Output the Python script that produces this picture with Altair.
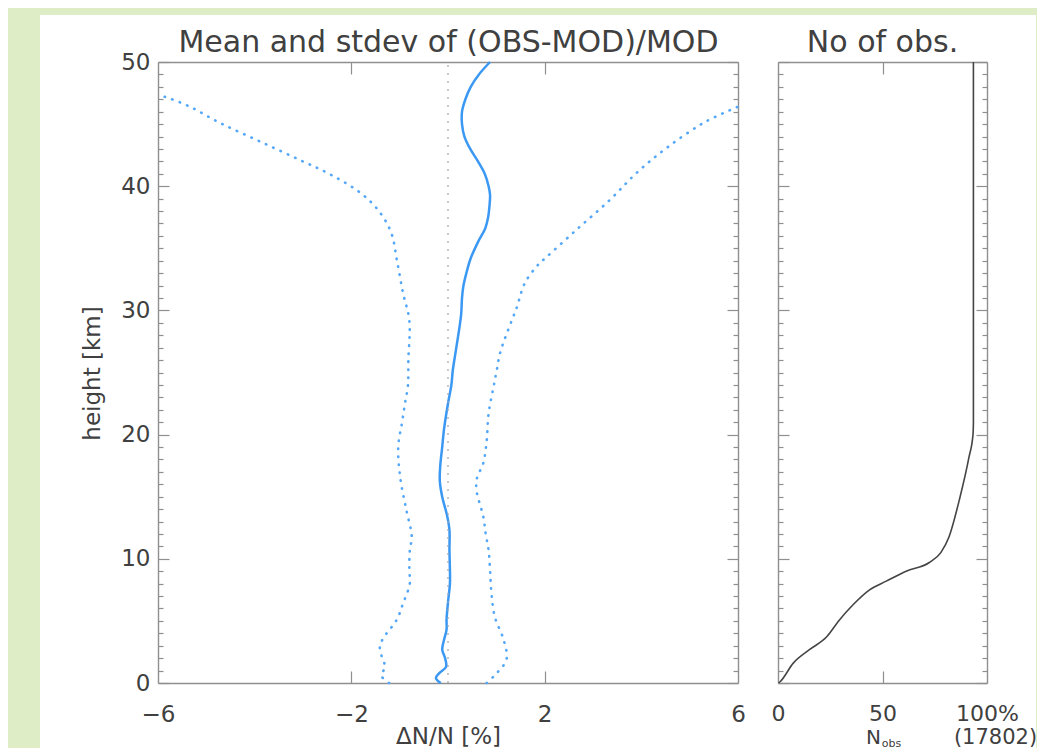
import altair as alt
import pandas as pd

# ---------------- data ----------------
mean_h = [0.0, 0.4, 0.8, 1.3, 2.0, 2.7, 3.5, 4.3, 5.1, 6.5, 8.0, 9.1, 10.7, 12.3,
          13.5, 15.0, 16.3, 17.5, 19.0, 20.5, 22.5, 24.0, 25.2, 27.2, 29.6, 31.0,
          32.0, 33.0, 34.2, 35.5, 36.6, 37.5, 38.5, 39.3, 40.0, 41.0, 42.0, 43.0,
          44.0, 45.0, 46.0, 47.0, 48.0, 49.0, 50.0]
mean_v = [-0.15, -0.25, -0.18, -0.04, -0.06, -0.12, -0.08, -0.03, -0.03, 0.00,
          0.04, 0.04, 0.03, 0.03, -0.02, -0.12, -0.17, -0.16, -0.12, -0.08, 0.00,
          0.07, 0.10, 0.18, 0.27, 0.29, 0.32, 0.38, 0.47, 0.62, 0.77, 0.83, 0.86,
          0.87, 0.84, 0.76, 0.62, 0.46, 0.34, 0.29, 0.29, 0.36, 0.47, 0.64, 0.87]

hi_h = [0.0, 0.8, 1.9, 3.5, 5.3, 7.2, 9.1, 10.7, 12.0, 13.4, 15.5, 16.5, 17.7,
        19.5, 21.7, 23.8, 25.2, 26.6, 29.2, 30.2, 32.2, 33.7, 34.3, 36.5, 38.9,
        41.1, 43.1, 45.1, 46.3, 46.4]
hi_v = [0.80, 1.01, 1.21, 1.15, 0.97, 0.90, 0.87, 0.84, 0.78, 0.73, 0.59, 0.60,
        0.73, 0.80, 0.84, 0.94, 1.01, 1.08, 1.32, 1.42, 1.59, 1.87, 2.04, 2.66,
        3.35, 3.91, 4.53, 5.29, 5.94, 6.00]

lo_h = [0.0, 0.6, 1.3, 2.0, 2.9, 3.6, 5.1, 6.4, 8.0, 9.1, 10.7, 11.8, 13.9,
        16.6, 19.0, 21.0, 22.5, 23.9, 26.0, 29.2, 31.4, 34.1, 36.2, 37.9, 39.4,
        40.9, 42.1, 43.6, 45.1, 46.4, 47.2, 47.3]
lo_v = [-1.22, -1.38, -1.30, -1.36, -1.41, -1.34, -1.06, -0.93, -0.79, -0.80,
        -0.79, -0.75, -0.86, -0.99, -1.03, -0.95, -0.89, -0.83, -0.82, -0.80,
        -0.93, -1.06, -1.17, -1.41, -1.79, -2.41, -3.06, -3.89, -4.72, -5.34,
        -5.86, -6.00]

nobs_h = [0.0, 0.1, 1.6, 2.7, 3.7, 5.1, 6.3, 7.5, 8.2, 9.0, 9.7, 10.5, 11.8,
          14.7, 18.2, 20.0, 21.0, 50.0]
nobs_p = [0.3, 1.0, 7.3, 15.2, 23.2, 29.5, 35.9, 43.8, 51.8, 61.3, 72.4, 77.9,
          81.9, 86.7, 91.4, 93.3, 93.5, 93.5]

zero_x = [0, 0]
zero_h = [0, 50]

x1_labels = [-6, -2, 2, 6]
x1_inner = [-2, 2]
x2_labels = [0, 50, 100]
x2_inner = [50]
y_labels = [0, 10, 20, 30, 40, 50]
y_ticks = list(range(0, 51))

# ---------------- layout / style ----------------
W, H = 996, 733
X1_RANGE = [118, 698]
X2_RANGE = [738, 947]
Y_RANGE = [668, 47]
FONT = "DejaVu Sans"
TXT = "#404040"
FRAME = "#8f8f8f"
BLUE = "#3b98f3"
BLUE_DOT = "#55a8f8"
GREEN = "#dfedc6"

mean_df = pd.DataFrame({"h": mean_h, "v": mean_v})
hi_df = pd.DataFrame({"h": hi_h, "v": hi_v})
lo_df = pd.DataFrame({"h": lo_h, "v": lo_v})
nobs_df = pd.DataFrame({"h": nobs_h, "v": nobs_p})
zero_df = pd.DataFrame({"h": zero_h, "v": zero_x})


def xs1():
    return alt.Scale(domain=[-6, 6], range=X1_RANGE, nice=False, zero=False)


def xs2():
    return alt.Scale(domain=[0, 100], range=X2_RANGE, nice=False, zero=False)


def ys():
    return alt.Scale(domain=[0, 50], range=Y_RANGE, nice=False, zero=False)


YTICK = {"condition": {"test": "datum.value % 10 === 0", "value": 11}, "value": 5}

common = dict(grid=False, domainColor=FRAME, domainWidth=1.4, tickColor=FRAME,
              tickWidth=1.2, labelFont=FONT, titleFont=FONT, labelColor=TXT,
              titleColor=TXT, titleFontWeight="normal", labelFlush=False)


def ax(**kw):
    d = dict(common)
    d.update(kw)
    return alt.Axis(**d)


# left panel: mean
A = alt.Chart(mean_df).mark_line(color=BLUE, strokeWidth=2.5, interpolate="catmull-rom").encode(
    x=alt.X("v:Q", scale=xs1(), axis=ax(
        orient="bottom", offset=-65, values=x1_labels, domain=True, ticks=False,
        tickSize=0, labelPadding=20, labelFontSize=23, labelAngle=0,
        title="ΔN/N [%]", titleX=408, titleY=60, titleFontSize=23,
        titleBaseline="alphabetic")),
    y=alt.Y("h:Q", scale=ys(), axis=ax(
        orient="left", offset=-118, values=y_labels, domain=False, ticks=False,
        tickSize=0, labelPadding=8, labelFontSize=23, labelBaseline="middle",
        title="height [km]", titleX=-66, titleY=358, titleAngle=-90,
        titleBaseline="middle", titleFontSize=23)),
    order="h:Q",
)

# left panel: lower stdev
B = alt.Chart(lo_df).mark_line(color=BLUE_DOT, strokeWidth=2.6, strokeDash=[0.5, 7.5],
                               strokeCap="round", interpolate="catmull-rom").encode(
    x=alt.X("v:Q", scale=xs1(), axis=ax(
        orient="top", offset=-668, values=x1_inner, domain=False, ticks=True,
        tickSize=12, labels=False, title=None)),
    y=alt.Y("h:Q", scale=ys(), axis=ax(
        orient="right", offset=-878, values=y_ticks, domain=True, ticks=True,
        tickSize=YTICK, labels=False, title=None)),
    order="h:Q",
)

# left panel: upper stdev
C = alt.Chart(hi_df).mark_line(color=BLUE_DOT, strokeWidth=2.6, strokeDash=[0.5, 7.5],
                               strokeCap="round", interpolate="catmull-rom").encode(
    x=alt.X("v:Q", scale=xs1(), axis=ax(
        orient="bottom", offset=-686, values=x1_inner, domain=True, ticks=True,
        tickSize=12, labels=False, title="Mean and stdev of (OBS-MOD)/MOD",
        titleX=408, titleY=-11, titleFontSize=30, titleBaseline="alphabetic")),
    y=alt.Y("h:Q", scale=ys(), axis=ax(
        orient="left", offset=-698, values=y_ticks, domain=True, ticks=True,
        tickSize=YTICK, labels=False, title=None)),
    order="h:Q",
)

# left panel: zero reference line
D = alt.Chart(zero_df).mark_line(color="#a8a8a8", strokeWidth=1.2, strokeDash=[2, 6]).encode(
    x=alt.X("v:Q", scale=xs1(), axis=None),
    y=alt.Y("h:Q", scale=ys(), axis=None),
    order="h:Q",
)

# right panel: number of observations
E = alt.Chart(nobs_df).mark_line(color="#454545", strokeWidth=1.6, interpolate="monotone").encode(
    x=alt.X("v:Q", scale=xs2(), axis=ax(
        orient="bottom", offset=-65, values=x2_labels, domain=True, ticks=False,
        tickSize=0, labelPadding=20, labelFontSize=22, labelAngle=0,
        labelExpr="datum.value == 100 ? '100%' : datum.label",
        title="N", titleX=833, titleY=60, titleFontSize=20,
        titleBaseline="alphabetic")),
    y=alt.Y("h:Q", scale=ys(), axis=ax(
        orient="right", offset=-258, values=y_ticks, domain=True, ticks=True,
        tickSize=YTICK, labels=False, title=None)),
    order="h:Q",
)

F = alt.Chart(nobs_df).mark_line(strokeOpacity=0).encode(
    x=alt.X("v:Q", scale=xs2(), axis=ax(
        orient="top", offset=-668, values=x2_inner, domain=False, ticks=True,
        tickSize=12, labels=False, title="obs", titleX=851, titleY=63,
        titleFontSize=11, titleBaseline="alphabetic")),
    y=alt.Y("h:Q", scale=ys(), axis=ax(
        orient="left", offset=-947, values=y_ticks, domain=True, ticks=True,
        tickSize=YTICK, labels=False, title=None)),
    order="h:Q",
)

G = alt.Chart(nobs_df).mark_line(strokeOpacity=0).encode(
    x=alt.X("v:Q", scale=xs2(), axis=ax(
        orient="bottom", offset=-686, values=x2_inner, domain=True, ticks=True,
        tickSize=12, labels=False, title="No of obs.", titleX=842, titleY=-11,
        titleFontSize=30, titleBaseline="alphabetic")),
    y=alt.Y("h:Q", scale=ys(), axis=None),
    order="h:Q",
)

Hh = alt.Chart(nobs_df).mark_line(strokeOpacity=0).encode(
    x=alt.X("v:Q", scale=xs2(), axis=ax(
        orient="bottom", offset=-65, values=x2_inner, domain=False, ticks=False,
        tickSize=0, labels=False, title="(17802)", titleX=955, titleY=60,
        titleFontSize=21, titleBaseline="alphabetic")),
    y=alt.Y("h:Q", scale=ys(), axis=None),
    order="h:Q",
)

chart = (
    alt.layer(A, B, C, D, E, F, G, Hh)
    .resolve_scale(x="independent", y="independent")
    .resolve_axis(x="independent", y="independent")
    .properties(
        width=W, height=H,
        autosize=alt.AutoSizeParams(type="none"),
        padding={"left": 32, "top": 7, "right": 1, "bottom": 0},
        background=GREEN,
    )
    .configure_view(fill="white", stroke=None)
)

chart.save("out.html", embed_options={"renderer": "svg", "actions": False})
